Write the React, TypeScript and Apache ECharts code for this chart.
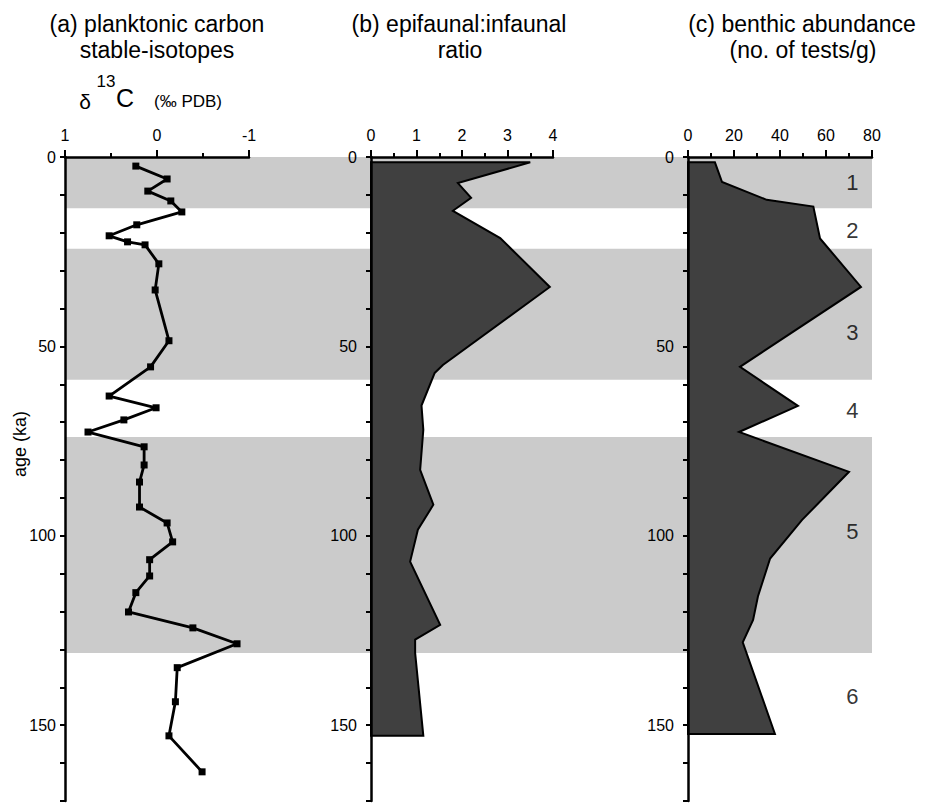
import React, { useEffect, useRef } from 'react';
import * as echarts from 'echarts';

// ---------- data ----------
const ageRange = [0, 170];

// (a) planktonic carbon stable isotopes: δ13C (‰ PDB) vs age (ka)
const isoAge = [2.4, 5.8, 9.0, 11.6, 14.5, 17.9, 20.8, 22.4, 23.2, 28.2, 35.1, 48.5, 55.4, 63.1, 66.2, 69.4, 72.6, 76.5, 81.3, 85.8, 92.4, 96.6, 101.6, 106.3, 110.6, 115.0, 120.1, 124.3, 128.5, 134.8, 143.8, 152.8, 162.3];
const isoValue = [0.23, -0.11, 0.10, -0.15, -0.27, 0.22, 0.52, 0.32, 0.13, -0.02, 0.02, -0.13, 0.07, 0.52, 0.01, 0.36, 0.75, 0.14, 0.14, 0.19, 0.19, -0.11, -0.17, 0.08, 0.08, 0.23, 0.31, -0.39, -0.87, -0.22, -0.20, -0.13, -0.49];
const isoRange = [-1, 1];

// (b) epifaunal:infaunal ratio
const ratioAge = [1.4, 6.9, 10.8, 14.2, 21.4, 34.3, 54.9, 57.0, 65.6, 72.0, 82.6, 91.8, 98.4, 106.8, 123.5, 127.4, 130.9, 152.8];
const ratioValue = [3.5, 1.91, 2.2, 1.8, 2.84, 3.93, 1.58, 1.4, 1.11, 1.15, 1.08, 1.37, 1.03, 0.86, 1.52, 0.97, 0.97, 1.15];
const ratioRange = [0, 4];

// (c) benthic abundance (no. of tests/g)
const abundAge = [1.4, 6.6, 11.3, 13.1, 21.5, 34.3, 55.4, 65.7, 72.6, 83.1, 95.8, 106.0, 116.0, 122.2, 128.1, 152.3];
const abundValue = [11.7, 14.8, 34.2, 54.5, 57.4, 75.2, 22.6, 47.8, 22.2, 70.0, 49.6, 35.7, 30.4, 28.3, 23.8, 37.8];
const abundRange = [0, 80];

// shaded (odd) isotope-stage bands
const bandStart = [0, 24.2, 73.9];
const bandEnd = [13.5, 58.8, 130.9];

// stage numbers
const stageLabels = ['1', '2', '3', '4', '5', '6'];
const stageAge = [6.6, 19.3, 46.4, 66.8, 98.9, 142.5];
const stageX = 71.5;

const FONT = '"Liberation Sans", Arial, Helvetica, sans-serif';

export default function App() {
  const ref = useRef<HTMLDivElement>(null);

  useEffect(() => {
    document.body.style.margin = '0';
    const chart = echarts.init(ref.current!, null, { renderer: 'svg' });

    const top = 157;
    const height = 644;
    const grids = [
      { left: 65, top, width: 184, height },
      { left: 371, top, width: 182, height },
      { left: 688, top, width: 184, height },
      { left: 65, top, width: 807, height },
    ];

    const xAxisBase = (gi: number, range: number[], interval: number, inverse: boolean) => ({
      gridIndex: gi,
      type: 'value',
      position: 'top',
      min: range[0],
      max: range[1],
      interval,
      inverse,
      z: 10,
      axisLine: { show: true, onZero: false, lineStyle: { color: '#000', width: 2.5 } },
      axisTick: { show: true, length: 7, lineStyle: { color: '#000', width: 2 } },
      minorTick: { show: true, splitNumber: 2, length: 4, lineStyle: { color: '#000', width: 2 } },
      axisLabel: { fontSize: 16, color: '#000', margin: 14, fontFamily: FONT },
      splitLine: { show: false },
      minorSplitLine: { show: false },
    });

    const yAxisBase = (gi: number, margin: number) => ({
      gridIndex: gi,
      type: 'value',
      min: ageRange[0],
      max: ageRange[1],
      interval: 10,
      inverse: true,
      z: 10,
      axisLine: { show: true, onZero: false, lineStyle: { color: '#000', width: 2.5 } },
      axisTick: { show: true, length: 5, lineStyle: { color: '#000', width: 2 } },
      axisLabel: {
        show: true,
        fontSize: 16,
        color: '#000',
        fontFamily: FONT,
        margin,
        formatter: (v: number) => (v % 50 === 0 ? String(v) : ''),
      },
      splitLine: { show: false },
    });

    const polygonSeries = (gi: number, ages: number[], vals: number[]) => ({
      type: 'custom',
      xAxisIndex: gi,
      yAxisIndex: gi,
      z: 3,
      silent: true,
      data: ages.map((a, i) => [vals[i], a]),
      renderItem: (params: any, api: any) => {
        if (params.dataIndex !== 0) return { type: 'group', children: [] };
        const pts: number[][] = [api.coord([0, ages[0]])];
        ages.forEach((a, i) => pts.push(api.coord([vals[i], a])));
        pts.push(api.coord([0, ages[ages.length - 1]]));
        return {
          type: 'polygon',
          shape: { points: pts },
          style: { fill: '#404040', stroke: '#000', lineWidth: 2, lineJoin: 'miter' },
        };
      },
    });

    const titleFont = `23px ${FONT}`;
    const option: any = {
      animation: false,
      backgroundColor: '#fff',
      grid: grids,
      xAxis: [
        xAxisBase(0, isoRange, 1, true),
        xAxisBase(1, ratioRange, 1, false),
        xAxisBase(2, abundRange, 20, false),
        { gridIndex: 3, type: 'value', min: 0, max: 1, show: false },
      ],
      yAxis: [
        yAxisBase(0, 9),
        yAxisBase(1, 14),
        yAxisBase(2, 14),
        { gridIndex: 3, type: 'value', min: ageRange[0], max: ageRange[1], inverse: true, show: false },
      ],
      series: [
        {
          type: 'line',
          xAxisIndex: 3,
          yAxisIndex: 3,
          data: [],
          silent: true,
          z: 0,
          markArea: {
            silent: true,
            itemStyle: { color: '#cbcbcb' },
            data: bandStart.map((s, i) => [{ yAxis: s }, { yAxis: bandEnd[i] }]),
          },
        },
        {
          type: 'line',
          xAxisIndex: 0,
          yAxisIndex: 0,
          z: 5,
          data: isoAge.map((a, i) => [isoValue[i], a]),
          symbol: 'rect',
          symbolSize: 7,
          showAllSymbol: true,
          lineStyle: { color: '#000', width: 2.8 },
          itemStyle: { color: '#000' },
        },
        polygonSeries(1, ratioAge, ratioValue),
        polygonSeries(2, abundAge, abundValue),
        {
          type: 'scatter',
          xAxisIndex: 2,
          yAxisIndex: 2,
          z: 6,
          symbolSize: 1,
          itemStyle: { color: 'rgba(0,0,0,0)' },
          data: stageAge.map((a) => [stageX, a]),
          label: {
            show: true,
            position: 'inside',
            fontSize: 22,
            color: '#000',
            fontFamily: FONT,
            formatter: (p: any) => stageLabels[p.dataIndex],
          },
        },
      ],
      graphic: [
        { type: 'text', x: 157, y: 24, style: { text: '(a) planktonic carbon', font: titleFont, fill: '#000', textAlign: 'center', textVerticalAlign: 'middle' } },
        { type: 'text', x: 157, y: 50, style: { text: 'stable-isotopes', font: titleFont, fill: '#000', textAlign: 'center', textVerticalAlign: 'middle' } },
        { type: 'text', x: 459, y: 24, style: { text: '(b) epifaunal:infaunal', font: titleFont, fill: '#000', textAlign: 'center', textVerticalAlign: 'middle' } },
        { type: 'text', x: 460, y: 50, style: { text: 'ratio', font: titleFont, fill: '#000', textAlign: 'center', textVerticalAlign: 'middle' } },
        { type: 'text', x: 802, y: 24, style: { text: '(c) benthic abundance', font: titleFont, fill: '#000', textAlign: 'center', textVerticalAlign: 'middle' } },
        { type: 'text', x: 803, y: 50, style: { text: '(no. of tests/g)', font: titleFont, fill: '#000', textAlign: 'center', textVerticalAlign: 'middle' } },
        { type: 'text', x: 85, y: 101, style: { text: 'δ', font: `21px ${FONT}`, fill: '#000', textAlign: 'center', textVerticalAlign: 'middle' } },
        { type: 'text', x: 106, y: 81, style: { text: '13', font: `17px ${FONT}`, fill: '#000', textAlign: 'center', textVerticalAlign: 'middle' } },
        { type: 'text', x: 125, y: 98, style: { text: 'C', font: `25px ${FONT}`, fill: '#000', textAlign: 'center', textVerticalAlign: 'middle' } },
        { type: 'text', x: 188, y: 101, style: { text: '(‰ PDB)', font: `17px ${FONT}`, fill: '#000', textAlign: 'center', textVerticalAlign: 'middle' } },
        { type: 'text', x: 20, y: 444, rotation: Math.PI / 2, style: { text: 'age (ka)', font: `18px ${FONT}`, fill: '#000', textAlign: 'center', textVerticalAlign: 'middle' } },
      ],
    };

    chart.setOption(option);
    return () => chart.dispose();
  }, []);

  return <div ref={ref} style={{ width: 925, height: 807 }} />;
}
